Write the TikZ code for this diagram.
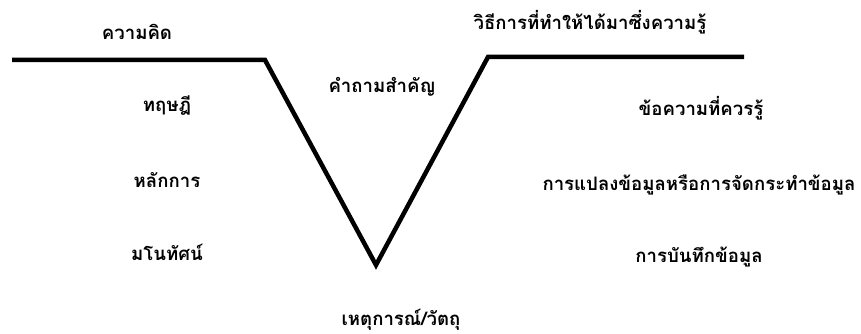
\documentclass[tikz,border=0pt]{standalone}
\usepackage{fontspec}
\newfontfamily\thaifont[Script=Thai]{Loma}
\begin{document}
\begin{tikzpicture}[x=1pt,y=-1pt,
  lbl/.style={font=\thaifont\bfseries\fontsize{18.6}{22}\selectfont, inner sep=0pt, anchor=center},
  vline/.style={line width=4.5pt, line join=miter, black}]
\useasboundingbox[fill=white] (0,0) rectangle (861,334);
\coordinate (l0) at (12,60);
\coordinate (l1) at (265,60);
\coordinate (vb) at (376,265);
\coordinate (r1) at (488,57);
\coordinate (r0) at (744,57);
\draw[vline] (l0) -- (l1) -- (vb) -- (r1) -- (r0);
\node[lbl] (a) at (137,32) {ความคิด};
\node[lbl] (b) at (167,106) {ทฤษฎี};
\node[lbl] (c) at (167,180) {หลักการ};
\node[lbl] (d) at (167,252) {มโนทัศน์};
\node[lbl] (e) at (382,87) {คำถามสำคัญ};
\node[lbl] (f) at (590,22) {วิธีการที่ทำให้ได้มาซึ่งความรู้};
\node[lbl] (g) at (701,108) {ข้อความที่ควรรู้};
\node[lbl] (h) at (699,185) {การแปลงข้อมูลหรือการจัดกระทำข้อมูล};
\node[lbl] (i) at (699,257) {การบันทึกข้อมูล};
\node[lbl] (j) at (401,320) {เหตุการณ์/วัตถุ};
\end{tikzpicture}
\end{document}
